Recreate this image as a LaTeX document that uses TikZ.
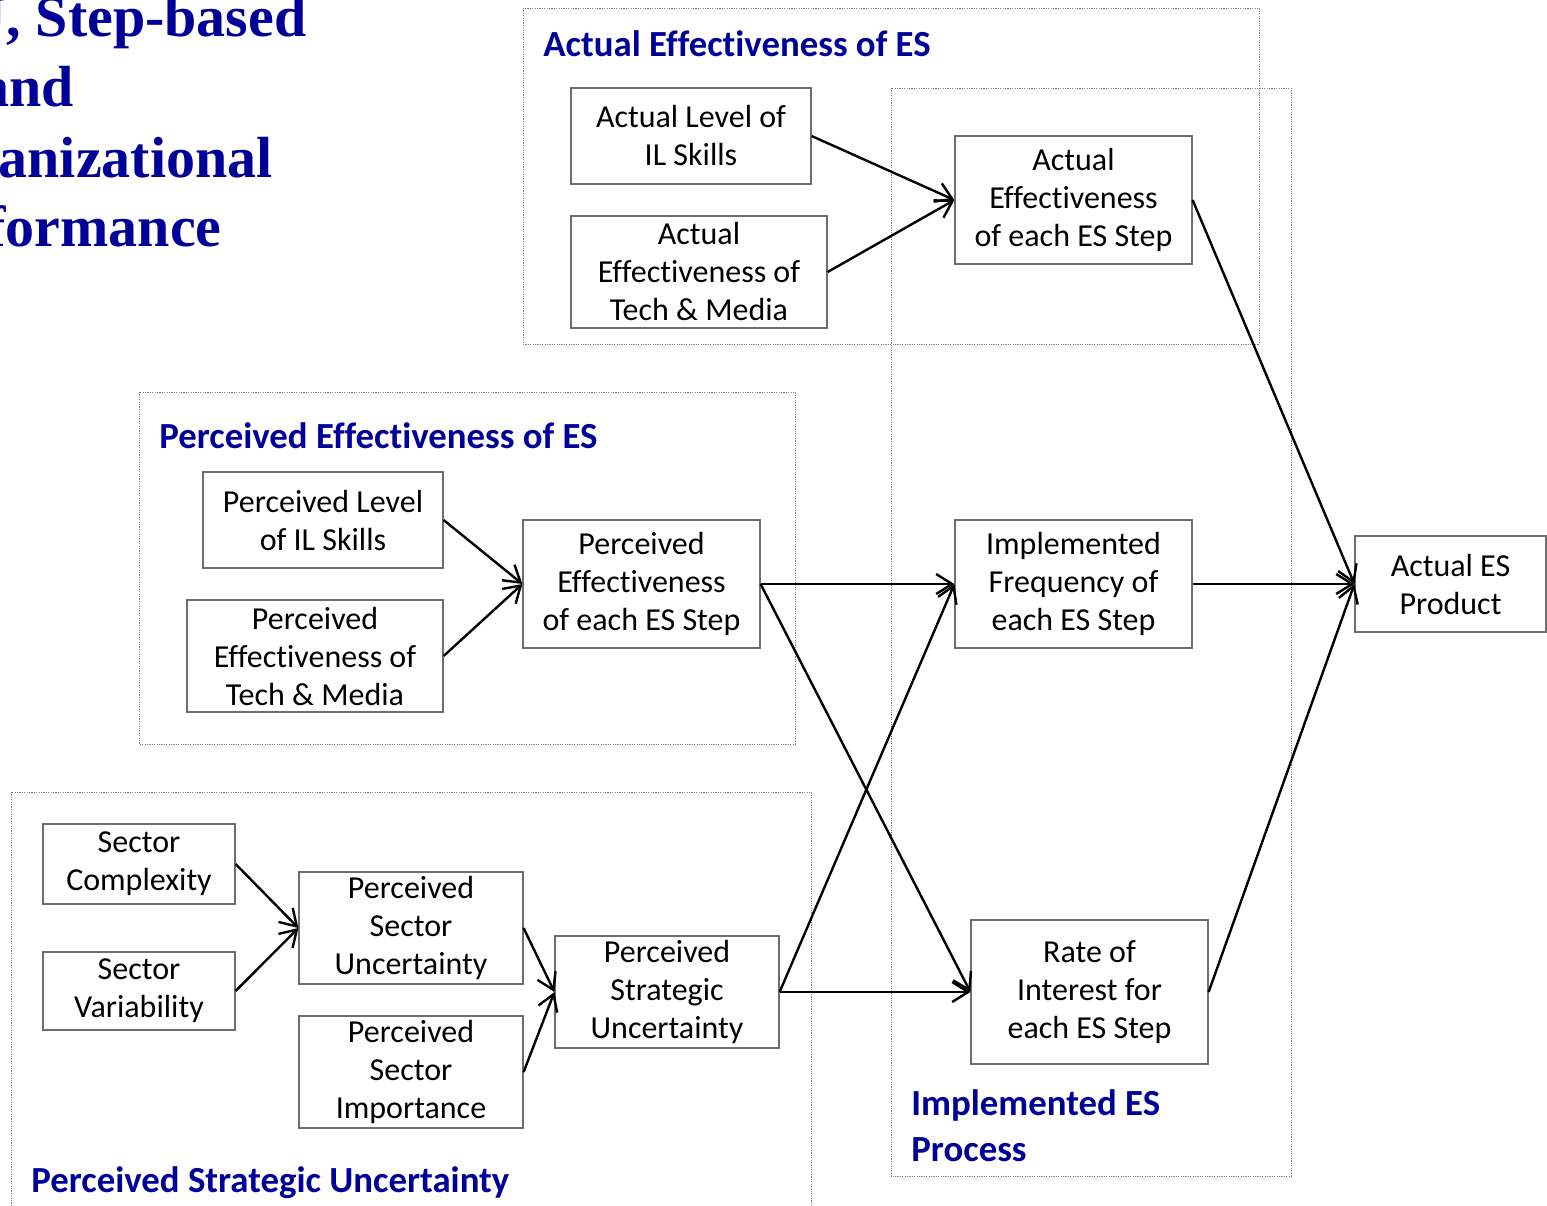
\documentclass[tikz,border=0pt]{standalone}
\usepackage{fontspec}
\setmainfont{Carlito}[Ligatures=CommonOff]
\newfontfamily\titlefont{Liberation Serif}
\usepackage{tikz}
\usetikzlibrary{arrows.meta, positioning}
\definecolor{headblue}{RGB}{0,0,153}
\definecolor{boxgray}{RGB}{110,110,110}

\begin{document}
\begin{tikzpicture}[x=0.5pt, y=-0.5pt,
  varbox/.style={draw=boxgray, line width=0.6pt, align=center, inner sep=0pt, font=\fontsize{16}{19}\selectfont},
  groupbox/.style={draw=gray, line width=0.5pt, dash pattern=on 0.6pt off 0.6pt},
  grouptitle/.style={text=headblue, font=\fontsize{18.4}{23}\selectfont\bfseries, anchor=base west, align=left, inner sep=0pt},
  titleline/.style={text=headblue, font=\titlefont\fontsize{29}{35}\selectfont\bfseries, anchor=base east, inner sep=0pt},
  flow/.style={-{Straight Barb[length=8pt,width=10pt]}, line width=1.2pt}]
\useasboundingbox (0,0) rectangle (1547,1205);
\clip (0,0) rectangle (1547,1205);

\node [titleline] (ttla) at (307,36) {U, Step-based};
\node [titleline] (ttlb) at (74,106) {and};
\node [titleline] (ttlc) at (273,177) {anizational};
\node [titleline] (ttld) at (222,246) {formance};

\draw [groupbox] (523,8) rectangle (1259,344);
\draw [groupbox] (891,88) rectangle (1291,1176);
\draw [groupbox] (139,392) rectangle (795,744);
\draw [groupbox] (11,792) rectangle (811,1240);

\node [grouptitle] (gactual) at (543,56) {Actual Effectiveness of ES};
\node [grouptitle] (gperceived) at (159,448) {Perceived Effectiveness of ES};
\node [grouptitle] (gstrategic) at (31,1192) {Perceived Strategic Uncertainty};
\node [grouptitle] (gprocess) at (911,1161) {Implemented ES\\Process};

\node [varbox, minimum width=120pt, minimum height=48pt] (actskill) at (691,136) {Actual Level of\\IL Skills};
\node [varbox, minimum width=128pt, minimum height=56pt] (acttech) at (699,272) {Actual\\Effectiveness of\\Tech \& Media};
\node [varbox, minimum width=118.5pt, minimum height=64pt] (actstep) at (1073.5,200) {Actual\\Effectiveness\\of each ES Step};
\node [varbox, minimum width=120pt, minimum height=48pt] (perskill) at (323,520) {Perceived Level\\of IL Skills};
\node [varbox, minimum width=128pt, minimum height=56pt] (pertech) at (315,656) {Perceived\\Effectiveness of\\Tech \& Media};
\node [varbox, minimum width=118.5pt, minimum height=64pt] (perstep) at (641.5,584) {Perceived\\Effectiveness\\of each ES Step};
\node [varbox, minimum width=118.5pt, minimum height=64pt] (freq) at (1073.5,584) {Implemented\\Frequency of\\each ES Step};
\node [varbox, minimum width=95.5pt, minimum height=48pt] (product) at (1450.5,584) {Actual ES\\Product};
\node [varbox, minimum width=96pt, minimum height=40pt] (complex) at (139,864) {Sector\\Complexity};
\node [varbox, minimum width=96pt, minimum height=39pt] (variab) at (139,991) {Sector\\Variability};
\node [varbox, minimum width=112pt, minimum height=56pt] (secunc) at (411,928) {Perceived\\Sector\\Uncertainty};
\node [varbox, minimum width=112pt, minimum height=56pt] (secimp) at (411,1072) {Perceived\\Sector\\Importance};
\node [varbox, minimum width=112pt, minimum height=56pt] (stratunc) at (667,992) {Perceived\\Strategic\\Uncertainty};
\node [varbox, minimum width=118.5pt, minimum height=72pt] (interest) at (1089.5,992) {Rate of\\Interest for\\each ES Step};

\draw [flow] (actskill.east) -- (actstep.west);
\draw [flow] (acttech.east) -- (actstep.west);
\draw [flow] (actstep.east) -- (product.west);
\draw [flow] (perskill.east) -- (perstep.west);
\draw [flow] (pertech.east) -- (perstep.west);
\draw [flow] (perstep.east) -- (freq.west);
\draw [flow] (perstep.east) -- (interest.west);
\draw [flow] (freq.east) -- (product.west);
\draw [flow] (complex.east) -- (secunc.west);
\draw [flow] (variab.east) -- (secunc.west);
\draw [flow] (secunc.east) -- (stratunc.west);
\draw [flow] (secimp.east) -- (stratunc.west);
\draw [flow] (stratunc.east) -- (freq.west);
\draw [flow] (stratunc.east) -- (interest.west);
\draw [flow] (interest.east) -- (product.west);
\end{tikzpicture}
\end{document}
